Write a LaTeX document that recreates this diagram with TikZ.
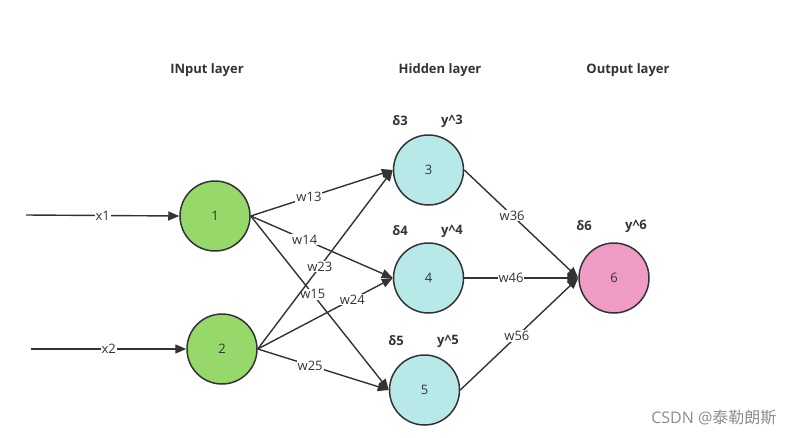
\documentclass[tikz,border=0pt]{standalone}
\usepackage{fontspec}
\setmainfont{Open Sans}
\newfontfamily\cjk{Noto Sans CJK SC}
\usetikzlibrary{arrows.meta}
\definecolor{ingreen}{RGB}{151,216,106}
\definecolor{hidcyan}{RGB}{184,233,233}
\definecolor{outpink}{RGB}{240,154,198}
\definecolor{ink}{RGB}{51,51,51}
\tikzset{
  neuron/.style={circle, draw=ink, line width=1.5pt, minimum size=70pt, inner sep=0pt, text=ink, font=\fontsize{13}{15}\selectfont},
  conn/.style={draw=ink, line width=1.4pt, -{Triangle[length=11pt,width=9pt]}},
  wlab/.style={fill=white, inner sep=1pt, text=ink, font=\fontsize{13}{15}\selectfont},
  title/.style={font=\bfseries\fontsize{13}{15}\selectfont, text=ink},
}
\begin{document}
\begin{tikzpicture}[x=1pt,y=-1pt]
\useasboundingbox (0,0) rectangle (795,437);
% titles
\node[title] (tin) at (207,70) {INput layer};
\node[title] (thid) at (440,70) {Hidden layer};
\node[title] (tout) at (628,70) {Output layer};
% neurons
\node[neuron, fill=ingreen] (n1) at (215,216) {1};
\node[neuron, fill=ingreen] (n2) at (222,349) {2};
\node[neuron, fill=hidcyan] (n3) at (428.5,170) {3};
\node[neuron, fill=hidcyan] (n4) at (428.5,278) {4};
\node[neuron, fill=hidcyan] (n5) at (424.5,390) {5};
\node[neuron, fill=outpink] (n6) at (614,278) {6};
% delta / y labels
\node[title] (d3) at (400,121) {δ3};
\node[title] (y3) at (452,121) {y\^{}3};
\node[title] (d4) at (400,231) {δ4};
\node[title] (y4) at (452,231) {y\^{}4};
\node[title] (d5) at (396,341) {δ5};
\node[title] (y5) at (448,341) {y\^{}5};
\node[title] (d6) at (584,226) {δ6};
\node[title] (y6) at (636,226) {y\^{}6};
% inputs
\coordinate (i1) at (26,215);
\coordinate (i2) at (31,349);
\draw[conn] (i1) -- node[wlab, pos=0.5] {x1} (n1.west);
\draw[conn] (i2) -- node[wlab, pos=0.5] {x2} (n2.west);
% input -> hidden
\draw[conn] (n1.east) -- node[wlab, pos=0.41] {w13} (n3.west);
\draw[conn] (n1.east) -- node[wlab, pos=0.38] {w14} (n4.west);
\draw[conn] (n1.east) -- node[wlab, pos=0.45] {w15} (n5.west);
\draw[conn] (n2.east) -- node[wlab, pos=0.46] {w23} (n3.west);
\draw[conn] (n2.east) -- node[wlab, pos=0.70] {w24} (n4.west);
\draw[conn] (n2.east) -- node[wlab, pos=0.40] {w25} (n5.west);
% hidden -> output
\draw[conn] (n3.east) -- node[wlab, pos=0.42] {w36} (n6.west);
\draw[conn] (n4.east) -- node[wlab, pos=0.41] {w46} (n6.west);
\draw[conn] (n5.east) -- node[wlab, pos=0.48] {w56} (n6.west);
% watermark
\node[text=black!45, font=\fontsize{16}{18}\selectfont, anchor=east] (wm) at (780,418) {CSDN @{\cjk 泰勒朗斯}};
\end{tikzpicture}
\end{document}
